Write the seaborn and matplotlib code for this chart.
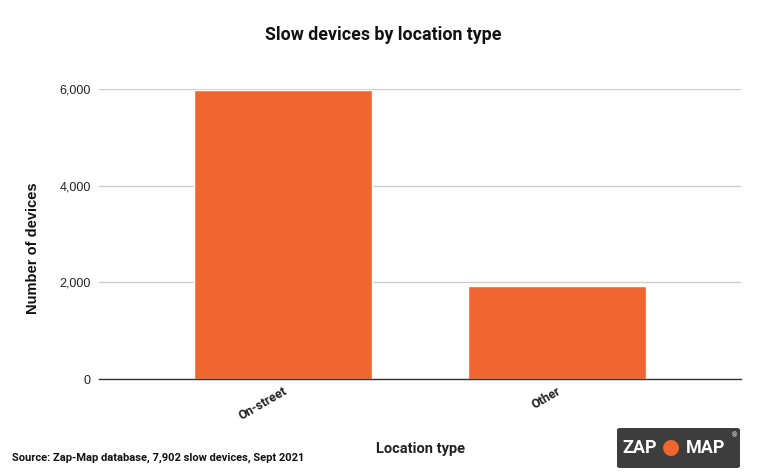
import matplotlib
matplotlib.use("Agg")
import matplotlib.pyplot as plt
import seaborn as sns
import pandas as pd
from matplotlib.patches import FancyBboxPatch
from matplotlib.ticker import FuncFormatter

categories = ["On-street", "Other"]
values = [5970, 1932]
yticks = [0, 2000, 4000, 6000]

sns.set_theme(style="white")
plt.rcParams['font.family'] = ['Roboto', 'DejaVu Sans']

df = pd.DataFrame({"Location type": categories, "Number of devices": values})

fig = plt.figure(figsize=(7.65, 4.76), dpi=100)
ax = fig.add_axes([99/765, 1-379/476, (741-99)/765, (379-89)/476])
sns.barplot(data=df, x="Location type", y="Number of devices", color="#F06631",
            saturation=1, width=0.65, ax=ax)
ax.set_xlim(-0.672, 1.672)
ax.set_ylim(0, 6000)
ax.set_yticks(yticks)
ax.yaxis.set_major_formatter(FuncFormatter(lambda v, p: f"{int(v):,}"))
ax.grid(axis="y", color="#cccccc", linewidth=0.9)
ax.set_axisbelow(True)
for s in ["top", "right", "left"]:
    ax.spines[s].set_visible(False)
ax.spines["bottom"].set_color("#333333")
ax.spines["bottom"].set_linewidth(1)
ax.tick_params(axis="y", length=0, labelsize=9, pad=6, colors="#222222")
ax.tick_params(axis="x", length=0, labelsize=9, pad=4, colors="#222222")
for lbl in ax.get_yticklabels():
    lbl.set_family(["Liberation Sans", "DejaVu Sans"])
for lbl in ax.get_xticklabels():
    lbl.set_rotation(30)
    lbl.set_ha("right")
    lbl.set_rotation_mode("anchor")
    lbl.set_fontweight("bold")
ax.set_xlabel("Location type", fontsize=10.5, fontweight="bold", labelpad=14, color="#222222")
ax.set_ylabel("")
fig.text(33/765, 1-248/476, "Number of devices", rotation=90, ha="center", va="center",
         fontsize=10.5, fontweight="bold", color="#111111",
         family=["Liberation Sans", "DejaVu Sans"])

fig.text(383/765, 1-35/476, "Slow devices by location type", ha="center", va="center",
         fontsize=12.8, fontweight="bold", color="#111111")
fig.text(12/765, 1-458/476, "Source: Zap-Map database, 7,902 slow devices, Sept 2021",
         ha="left", va="center", fontsize=8, fontweight="bold", color="#111111")

# logo
box = FancyBboxPatch((617/765, 1-468/476), (740-617)/765, (468-428)/476,
                     boxstyle="round,pad=0,rounding_size=0.004", transform=fig.transFigure,
                     facecolor="#3d3d3d", edgecolor="none")
fig.patches.append(box)
fig.text(640/765, 1-448/476, "ZAP", ha="center", va="center", fontsize=13,
         fontweight="bold", color="white")
fig.text(671/765, 1-448/476, "\u25cf", ha="center", va="center", fontsize=15, color="#F06631")
fig.text(706/765, 1-448/476, "MAP", ha="center", va="center", fontsize=13,
         fontweight="bold", color="white")
fig.text(734/765, 1-436/476, "\u00ae", ha="center", va="center", fontsize=5, color="white")

fig.savefig("out.png", dpi=100)
